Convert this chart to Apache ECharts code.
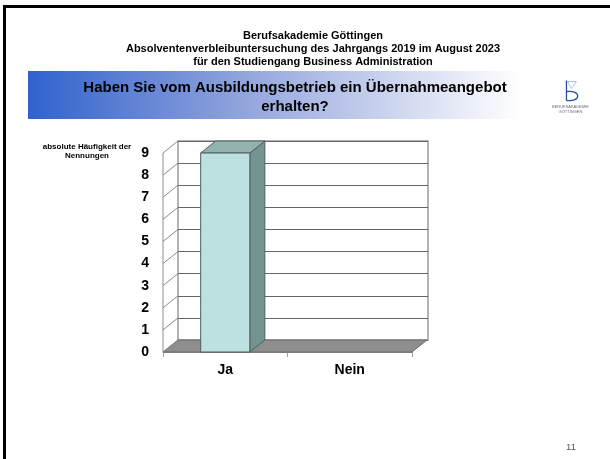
<!DOCTYPE html>
<html>
<head>
<meta charset="utf-8">
<script src="https://cdn.jsdelivr.net/npm/echarts@6/dist/echarts.min.js"></script>
<style>
  html, body { margin: 0; padding: 0; background: #fff; }
  #chart { width: 610px; height: 459px; }
</style>
</head>
<body>
<div id="chart"></div>
<script>
// Survey answers: number of mentions per answer
const categories = ['Ja', 'Nein'];
const counts = [9, 0];
const yMin = 0;
const yMax = 9;
const yStep = 1;

const FONT = '"Liberation Sans", Arial, sans-serif';
// Depth offset of the pseudo-3D walls and bars
const DX = 15;
const DY = -12;

const chart = echarts.init(document.getElementById('chart'));

const tickValues = [];
for (let v = yMin; v <= yMax; v += yStep) tickValues.push(v);

// Floor plate and left side wall of the 3D frame
function renderFrame(params, api) {
  const c0 = api.coord([0, yMin]);
  const bw = api.size([1, 0])[0];
  const left = c0[0] - bw / 2;
  const right = left + bw * categories.length;
  const y0 = c0[1];
  const yTop = api.coord([0, yMax])[1];
  const children = [];
  children.push({
    type: 'polygon',
    shape: { points: [[left, y0], [right, y0], [right + DX, y0 + DY], [left + DX, y0 + DY]] },
    style: { fill: '#8e8e8e', stroke: '#6a6a6a', lineWidth: 1 }
  });
  children.push({
    type: 'line',
    shape: { x1: left, y1: y0, x2: left, y2: yTop },
    style: { stroke: '#a0a0a0', lineWidth: 1.2 }
  });
  tickValues.forEach(function (v) {
    const y = api.coord([0, v])[1];
    children.push({
      type: 'line',
      shape: { x1: left, y1: y, x2: left + DX, y2: y + DY },
      style: { stroke: '#8a8a8a', lineWidth: 1 }
    });
  });
  return { type: 'group', children: children };
}

// Cuboid bar: front face, right side face, top face
function renderBar(params, api) {
  const val = api.value(1);
  if (!val) return null;
  const top = api.coord([api.value(0), val]);
  const bot = api.coord([api.value(0), yMin]);
  const bw = api.size([1, 0])[0] * 0.395;
  const x0 = top[0] - bw / 2;
  const x1 = x0 + bw;
  const yt = top[1];
  const yb = bot[1];
  return {
    type: 'group',
    children: [
      {
        type: 'polygon',
        shape: { points: [[x1, yt], [x1 + DX, yt + DY], [x1 + DX, yb + DY], [x1, yb]] },
        style: { fill: '#749492', stroke: '#4e5e5e', lineWidth: 1 }
      },
      {
        type: 'polygon',
        shape: { points: [[x0, yt], [x0 + DX, yt + DY], [x1 + DX, yt + DY], [x1, yt]] },
        style: { fill: '#93b3b1', stroke: '#4e5e5e', lineWidth: 1 }
      },
      {
        type: 'rect',
        shape: { x: x0, y: yt, width: bw, height: yb - yt },
        style: { fill: '#bde1e1', stroke: '#4e5e5e', lineWidth: 1 }
      }
    ]
  };
}

const option = {
  backgroundColor: '#ffffff',
  animation: false,
  textStyle: { fontFamily: FONT },
  title: [
    {
      text: 'Berufsakademie Göttingen\nAbsolventenverbleibuntersuchung des Jahrgangs 2019 im August 2023\nfür den Studiengang Business Administration',
      left: 308, top: 24, textAlign: 'center',
      textStyle: { fontFamily: FONT, fontSize: 11, fontWeight: 'bold', color: '#000', lineHeight: 13 }
    },
    {
      text: 'Haben Sie vom Ausbildungsbetrieb ein Übernahmeangebot\nerhalten?',
      left: 290, top: 73, textAlign: 'center',
      textStyle: { fontFamily: FONT, fontSize: 15, fontWeight: 'bold', color: '#000', lineHeight: 19 }
    },
    {
      text: 'absolute Häufigkeit der\nNennungen',
      left: 82, top: 137, textAlign: 'center',
      textStyle: { fontFamily: FONT, fontSize: 8, fontWeight: 'bold', color: '#000', lineHeight: 9 }
    },
    {
      text: '11',
      left: 566, top: 437, textAlign: 'center',
      textStyle: { fontFamily: FONT, fontSize: 9.5, fontWeight: 'normal', color: '#555' }
    }
  ],
  graphic: [
    // slide frame
    { type: 'rect', shape: { x: 3, y: 5, width: 607, height: 3 }, style: { fill: '#000' }, z: 0 },
    { type: 'rect', shape: { x: 3, y: 5, width: 3, height: 454 }, style: { fill: '#000' }, z: 0 },
    // question band
    {
      type: 'rect', z: -1,
      shape: { x: 28, y: 71, width: 492, height: 48 },
      style: {
        fill: new echarts.graphic.LinearGradient(0, 0, 1, 0, [
          { offset: 0, color: '#3062cc' },
          { offset: 0.45, color: '#94a6dd' },
          { offset: 1, color: '#ffffff' }
        ])
      }
    },
    // logo
    {
      type: 'group', left: 552, top: 78,
      children: [
        { type: 'polygon', shape: { points: [[10, 1], [19, 1], [14, 8]] }, style: { fill: 'none', stroke: '#a8b8e0', lineWidth: 0.9 } },
        { type: 'line', shape: { x1: 9, y1: 0, x2: 9, y2: 20 }, style: { stroke: '#2a4fa8', lineWidth: 1.3 } },
        { type: 'bezierCurve', shape: { x1: 9, y1: 11, cpx1: 24, cpy1: 9, cpx2: 24, cpy2: 22, x2: 9, y2: 20 }, style: { fill: 'none', stroke: '#2a4fa8', lineWidth: 1.3 } },
        { type: 'text', style: { x: 13, y: 24, text: 'BERUFSAKADEMIE', fontSize: 4, fontFamily: FONT, fill: '#6a6a80', align: 'center' } },
        { type: 'text', style: { x: 13, y: 29, text: 'GÖTTINGEN', fontSize: 4, fontFamily: FONT, fill: '#6a6a80', align: 'center' } }
      ]
    }
  ],
  grid: [
    // front plane (values, labels, bars)
    { left: 163, top: 153, width: 249, height: 199 },
    // back wall
    { left: 178, top: 141, width: 250, height: 199, show: true, borderColor: '#9a9a9a', borderWidth: 1.5, backgroundColor: '#ffffff' }
  ],
  xAxis: [
    {
      type: 'category', gridIndex: 0, data: categories,
      axisLine: { show: true, lineStyle: { color: '#8a8a8a' } },
      axisTick: { show: true, length: 5, lineStyle: { color: '#a0a0a0' } },
      axisLabel: { fontFamily: FONT, fontSize: 14, fontWeight: 'bold', color: '#000', margin: 11 }
    },
    {
      type: 'category', gridIndex: 1, data: categories, show: false
    }
  ],
  yAxis: [
    {
      type: 'value', gridIndex: 0, min: yMin, max: yMax, interval: yStep,
      axisLine: { show: false }, axisTick: { show: false }, splitLine: { show: false },
      axisLabel: { fontFamily: FONT, fontSize: 14, fontWeight: 'bold', color: '#000', margin: 14 }
    },
    {
      type: 'value', gridIndex: 1, min: yMin, max: yMax, interval: yStep,
      axisLine: { show: false }, axisTick: { show: false }, axisLabel: { show: false },
      splitLine: { show: true, lineStyle: { color: '#666666', width: 1.2 } }
    }
  ],
  series: [
    {
      type: 'custom', name: 'frame', xAxisIndex: 0, yAxisIndex: 0, z: 1,
      renderItem: renderFrame, data: [[0, 0]], silent: true
    },
    {
      type: 'custom', name: 'Nennungen', xAxisIndex: 0, yAxisIndex: 0, z: 3,
      renderItem: renderBar,
      data: categories.map(function (c, i) { return [i, counts[i]]; })
    }
  ]
};

chart.setOption(option);
</script>
</body>
</html>
